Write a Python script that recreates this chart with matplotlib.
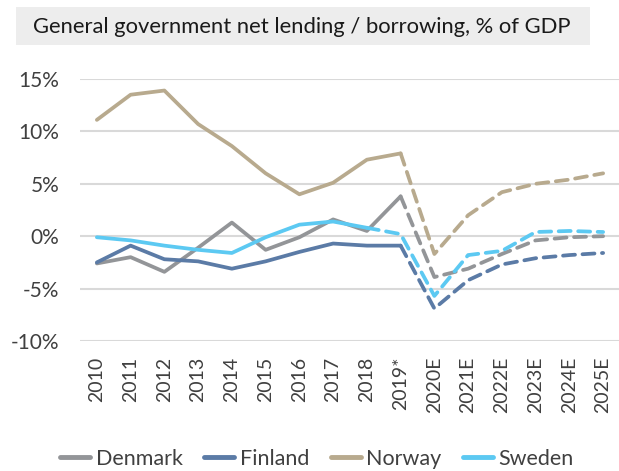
import matplotlib
matplotlib.use("Agg")
import matplotlib.pyplot as plt
from matplotlib.lines import Line2D
from matplotlib.patches import Rectangle
from matplotlib.ticker import FuncFormatter

years = ["2010", "2011", "2012", "2013", "2014", "2015", "2016", "2017",
         "2018", "2019*", "2020E", "2021E", "2022E", "2023E", "2024E", "2025E"]

denmark = [-2.6, -2.0, -3.4, -1.1, 1.3, -1.3, -0.1, 1.6, 0.5, 3.8,
           -3.9, -3.1, -1.7, -0.4, -0.1, 0.0]
finland = [-2.5, -0.9, -2.2, -2.4, -3.1, -2.4, -1.5, -0.7, -0.9, -0.9,
           -6.9, -4.2, -2.7, -2.1, -1.8, -1.6]
norway = [11.1, 13.5, 13.9, 10.7, 8.6, 6.0, 4.0, 5.1, 7.3, 7.9,
          -1.7, 2.0, 4.2, 5.0, 5.4, 6.0]
sweden = [-0.1, -0.4, -0.9, -1.3, -1.6, -0.1, 1.1, 1.4, 0.8, 0.2,
          -5.7, -1.8, -1.4, 0.4, 0.5, 0.4]

# last index drawn as a solid (outturn) line; the rest is a dashed forecast
series = [
    ("Denmark", denmark, "#939598", 9),
    ("Finland", finland, "#5B7BA6", 9),
    ("Norway", norway, "#B8AA8E", 9),
    ("Sweden", sweden, "#5CC9F2", 8),
]

title = "General government net lending / borrowing, % of GDP"
y_ticks = [-10, -5, 0, 5, 10, 15]

text_color = "#404040"
plt.rcParams["font.family"] = ["Lato", "DejaVu Sans"]

fig = plt.figure(figsize=(6.19, 4.71), dpi=100)
ax = fig.add_axes([80 / 619, 1 - 341 / 471, 540 / 619, (341 - 79) / 471])

x = list(range(len(years)))
lw = 2.7
for name, vals, color, last in series:
    ax.plot(x[:last + 1], vals[:last + 1], color=color, lw=lw,
            solid_capstyle="round", solid_joinstyle="round", zorder=3)
    ax.plot(x[last:], vals[last:], color=color, lw=lw, ls=(0, (3.2, 2.0)),
            dash_capstyle="round", dash_joinstyle="round", zorder=3)

ax.set_xlim(-0.5, len(years) - 0.5)
ax.set_ylim(-10, 15)
ax.set_yticks(y_ticks)
ax.yaxis.set_major_formatter(FuncFormatter(lambda v, p: f"{v:.0f}%"))
ax.set_xticks(x)
ax.set_xticklabels(years, rotation=90)
ax.grid(axis="y", color="#D9D9D9", lw=1.5, zorder=0)
for s in ax.spines.values():
    s.set_visible(False)
ax.tick_params(axis="both", length=0, colors=text_color)
ax.tick_params(axis="y", pad=15, labelsize=15)
ax.tick_params(axis="x", pad=11.5, labelsize=14)

# title banner
fig.patches.append(Rectangle((16 / 619, 1 - 45 / 471), (590 - 16) / 619, 38 / 471,
                             transform=fig.transFigure, facecolor="#EDEDED",
                             edgecolor="none", zorder=0))
fig.text(33 / 619, 1 - 27 / 471, title, ha="left", va="center",
         fontsize=15.8, color="#1A1A1A")

handles = [Line2D([0], [0], color=c, lw=3.5, solid_capstyle="round")
           for _, _, c, _ in series]
fig.legend(handles, [n for n, _, _, _ in series], loc="center",
           bbox_to_anchor=(317 / 619, 1 - 459 / 471), ncol=4, frameon=False,
           fontsize=15.5, handlelength=1.4, handletextpad=0.25, columnspacing=1.0,
           labelcolor=text_color)

fig.savefig("out.png", dpi=100)
